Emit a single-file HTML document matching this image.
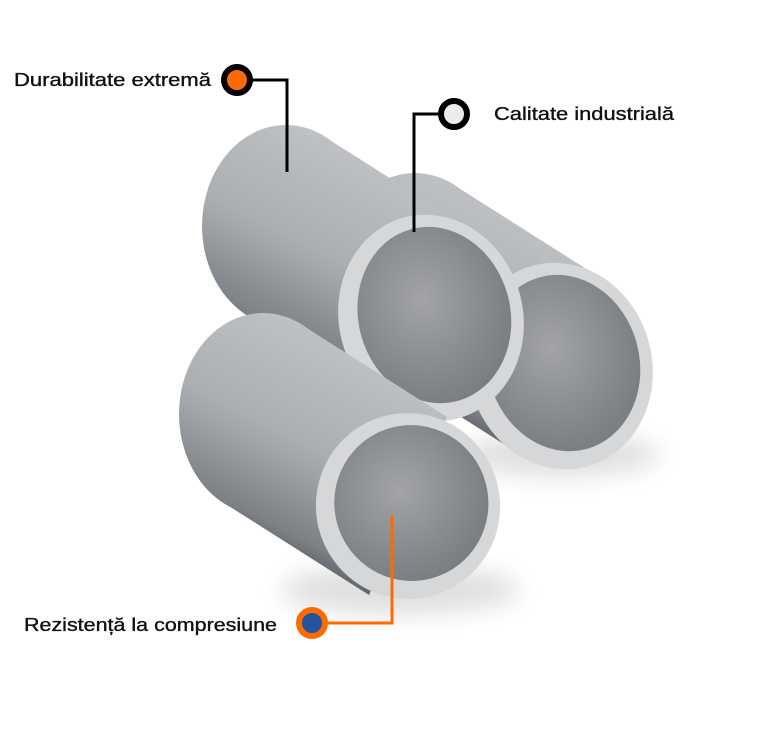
<!DOCTYPE html>
<html><head><meta charset="utf-8"><style>
body{margin:0;background:#fff;width:768px;height:731px;overflow:hidden}
svg{display:block}
text{font-family:"Liberation Sans",sans-serif;font-size:18px;fill:#111;stroke:#111;stroke-width:0.35}
</style></head><body>
<svg width="768" height="731" viewBox="0 0 768 731">
<defs>
<linearGradient id="body" gradientUnits="userSpaceOnUse" x1="-20" y1="-200" x2="-150" y2="60">
<stop offset="0" stop-color="#c8cacc"/><stop offset="0.55" stop-color="#acafb2"/><stop offset="0.85" stop-color="#7d8186"/><stop offset="1" stop-color="#42464c"/></linearGradient>
<radialGradient id="inner" cx="0.45" cy="0.4" r="0.7">
<stop offset="0" stop-color="#a2a4a6"/><stop offset="1" stop-color="#74777b"/></radialGradient>
<filter id="blur" x="-50%" y="-50%" width="200%" height="200%"><feGaussianBlur stdDeviation="12"/></filter>
<g id="pipe">
<path d="M39,-89 L-106,-181 L-184,-3 L-39,89 Z" fill="url(#body)"/>
<ellipse cx="-145" cy="-92" rx="84" ry="101" fill="url(#body)"/>
</g>
</defs>
<ellipse cx="400" cy="590" rx="120" ry="25" fill="#000" opacity="0.12" filter="url(#blur)"/>
<ellipse cx="560" cy="455" rx="100" ry="22" fill="#000" opacity="0.12" filter="url(#blur)"/>
<g transform="translate(560,366)">
<use href="#pipe"/>
<ellipse cx="0" cy="0" rx="92" ry="104" transform="rotate(-15)" fill="#d6d7d8"/>
<ellipse cx="4" cy="-2" rx="76" ry="89" transform="rotate(-15)" fill="url(#inner)"/>
</g>
<g transform="translate(431,318)">
<use href="#pipe"/>
<ellipse cx="0" cy="0" rx="92" ry="104" transform="rotate(-15)" fill="#d6d7d8"/>
<ellipse cx="4" cy="-2" rx="76" ry="89" transform="rotate(-15)" fill="url(#inner)"/>
</g>
<g transform="translate(408,506)">
<use href="#pipe"/>
<ellipse cx="0" cy="0" rx="92" ry="93" transform="rotate(-15)" fill="#d6d7d8"/>
<ellipse cx="4" cy="-2" rx="77" ry="78" transform="rotate(-15)" fill="url(#inner)"/>
</g>
<polyline points="252,80 287,80 287,172" fill="none" stroke="#000" stroke-width="3"/>
<circle cx="237" cy="80" r="13" fill="#ff6a00" stroke="#000" stroke-width="6"/>
<text x="14" y="86" textLength="197" lengthAdjust="spacingAndGlyphs">Durabilitate extremă</text>
<polyline points="439,114 414,114 414,232" fill="none" stroke="#000" stroke-width="3"/>
<circle cx="454" cy="114" r="13" fill="#ececec" stroke="#000" stroke-width="6"/>
<text x="494" y="120" textLength="180" lengthAdjust="spacingAndGlyphs">Calitate industrială</text>
<polyline points="327,623 392,623 392,515" fill="none" stroke="#ff6a00" stroke-width="3"/>
<circle cx="312" cy="623" r="13" fill="#23539c" stroke="#ff6a00" stroke-width="6"/>
<text x="24" y="631" textLength="253" lengthAdjust="spacingAndGlyphs">Rezistență la compresiune</text>
</svg>
</body></html>
